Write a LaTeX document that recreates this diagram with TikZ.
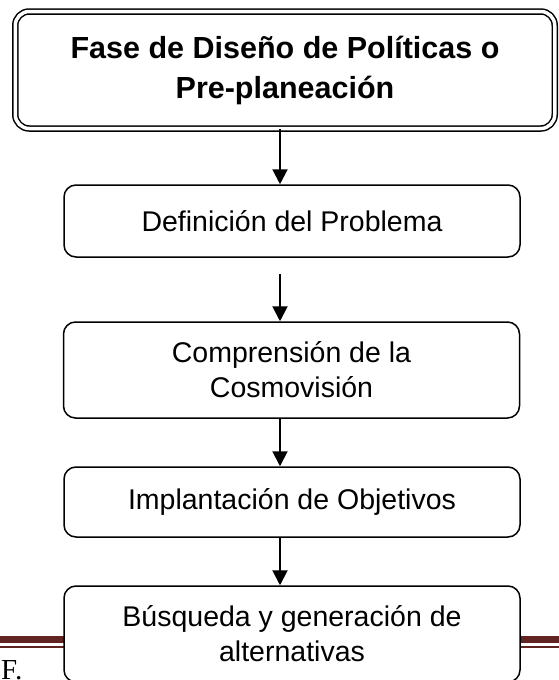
\documentclass[tikz,border=0pt]{standalone}
\usepackage{fontspec}
\setmainfont{Liberation Sans}
\newfontfamily\serifF{Liberation Serif}
\usetikzlibrary{arrows.meta,calc}
\definecolor{footred}{HTML}{622423}
\tikzset{
  stepbox/.style={draw=black, line width=1.5pt, rounded corners=12pt, fill=white,
    minimum width=456pt, inner sep=0pt, align=center,
    font=\fontsize{28.5}{35}\selectfont},
  topbox/.style={draw=black, line width=1.5pt, double=white, double distance=3.5pt,
    rounded corners=14pt, fill=white, minimum width=539.5pt, minimum height=117pt,
    inner sep=0pt, align=center, font=\fontsize{30.5}{40}\selectfont\bfseries},
  arr/.style={line width=2pt, -{Triangle[length=15pt,width=15pt]}},
  footline/.style={footred}
}
\begin{document}
\begin{tikzpicture}[x=1pt,y=-1pt]
\useasboundingbox (0,0) rectangle (559,680);
\clip (0,0) rectangle (559,680);
% footer rules
\fill[footline] (0,636) rectangle (559,643);
\fill[footline] (0,646) rectangle (559,648);
\node[anchor=base west, inner sep=0pt, font=\serifF\fontsize{29}{32}\selectfont] (foot) at (1,679) {F.};
% boxes
\node[topbox] (top) at (285,70) {Fase de Diseño de Políticas o\\Pre-planeación};
\node[stepbox, minimum height=72pt] (b2) at (292,221) {Definición del Problema};
\node[stepbox, minimum height=96pt] (b3) at (291.5,370) {Comprensión de la\\Cosmovisión};
\node[stepbox, minimum height=70pt] (b4) at (292,502) {Implantación de Objetivos};
\node[stepbox, minimum height=96pt] (b5) at (292,634) {Búsqueda y generación de\\alternativas};
% arrows
\coordinate (ax) at (280,0);
\draw[arr] (ax |- top.south) -- (ax |- b2.north);
\draw[arr] ($(ax |- b2.south)+(0,16)$) -- (ax |- b3.north);
\draw[arr] (ax |- b3.south) -- (ax |- b4.north);
\draw[arr] (ax |- b4.south) -- (ax |- b5.north);
\end{tikzpicture}
\end{document}
